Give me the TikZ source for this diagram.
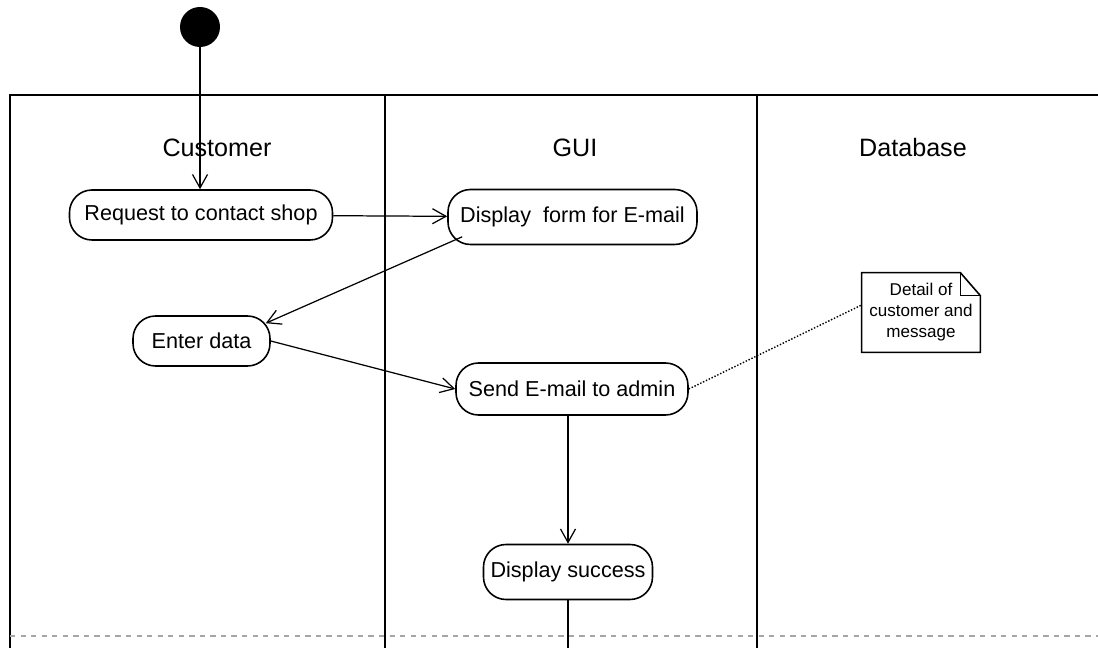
\documentclass[tikz,border=0pt]{standalone}
\usepackage{fontspec}
\setmainfont{Liberation Sans}
\usetikzlibrary{arrows.meta}

\begin{document}
\begin{tikzpicture}[>={Straight Barb[length=2.7mm,width=3mm]},
    act/.style={draw, line width=0.9pt, rounded corners=0.45cm, minimum height=1cm,
        inner xsep=4pt, font=\fontsize{12.3}{14}\selectfont},
    lane/.style={font=\fontsize{14.3}{16}\selectfont},
    flow/.style={->, line width=0.7pt}]
        \useasboundingbox (0, 0) rectangle (21.96, 12.96);
        % swimlanes
        \draw[line width=1.5pt] (0.2, 0) -- (0.2, 11.06) -- (21.96, 11.06);
        \draw[line width=1pt] (7.7, 0) -- (7.7, 11.06);
        \draw[line width=1pt] (15.14, 0) -- (15.14, 11.06);
        \draw[gray!70, dashed, line width=0.6pt] (0.2, 0.24) -- (21.96, 0.24);
        \node[lane] (cust) at (4.34, 10.0) {Customer};
        \node[lane] (gui) at (11.5, 10.0) {GUI};
        \node[lane] (db) at (18.26, 10.0) {Database};
        % activities
        \node[circle, fill=black, minimum size=0.8cm, inner sep=0] (start) at (4.0, 12.42) {};
        \node[act, minimum width=5.26cm] (req) at (4.02, 8.66) {Request to contact shop};
        \node[act, minimum width=4.98cm, minimum height=1.1cm] (form) at (11.45, 8.62) {Display\ \ form for E-mail};
        \node[act, minimum width=2.74cm] (enter) at (4.03, 6.14) {Enter data};
        \node[act, minimum width=4.64cm, minimum height=1.04cm] (send) at (11.44, 5.18) {Send E-mail to admin};
        \node[act, minimum width=3.3cm, minimum height=1.1cm] (succ) at (11.36, 1.52) {Display success};
        \node[minimum width=2.36cm, minimum height=1.58cm, align=center,
            font=\fontsize{9.7}{12}\selectfont] (note) at (18.42, 6.71) {Detail of\\customer and\\message};
        \draw[line width=0.9pt] (note.north west) -- ([xshift=-0.4cm]note.north east)
            -- ([yshift=-0.46cm]note.north east) -- (note.south east) -- (note.south west) -- cycle;
        \draw[line width=0.7pt] ([xshift=-0.4cm]note.north east) |- ([yshift=-0.46cm]note.north east);
        \coordinate (end) at (succ.south |- 0, 0);
        % transitions
        \draw[flow] (start) -- (req.north -| start);
        \draw[flow] (req) -- (form);
        \draw[flow] ([xshift=3mm,yshift=1.7mm]form.south west) -- ([xshift=-1mm,yshift=-1.6mm]enter.north east);
        \draw[flow] (enter.east) -- (send.west);
        \draw[flow] (succ.north |- send.south) -- (succ.north);
        \draw[line width=0.7pt] (succ.south) -- (end);
        \draw[densely dotted, line width=0.8pt] (send.east) -- ([yshift=1.5mm]note.west);
    \end{tikzpicture}
\end{document}
